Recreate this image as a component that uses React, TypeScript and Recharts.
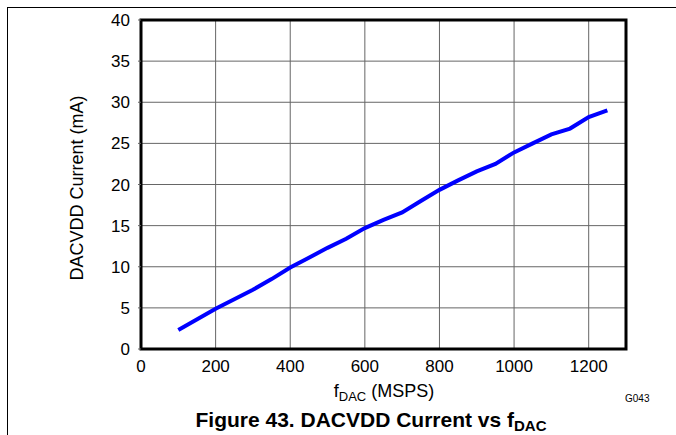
import React from "react";
import {
  LineChart,
  Line,
  XAxis,
  YAxis,
  CartesianGrid,
  ReferenceArea,
} from "recharts";

// f_DAC (MSPS) and DACVDD current (mA)
const fDac = [100, 200, 300, 350, 400, 450, 500, 550, 600, 650, 700, 750, 800, 850, 900, 950, 1000, 1050, 1100, 1150, 1200, 1250];
const current = [2.3, 4.9, 7.2, 8.5, 9.9, 11.1, 12.3, 13.4, 14.7, 15.7, 16.6, 18.0, 19.35, 20.5, 21.6, 22.5, 23.9, 25.0, 26.1, 26.8, 28.2, 29.0];

const xTicks = [0, 200, 400, 600, 800, 1000, 1200];
const yTicks = [0, 5, 10, 15, 20, 25, 30, 35, 40];

const data = fDac.map((f, i) => ({ f, mA: current[i] }));

const font = "Arial, 'Liberation Sans', Helvetica, sans-serif";

export default function App() {
  return (
    <div style={{ position: "absolute", left: 0, top: 0, width: 676, height: 435, fontFamily: font, background: "#fff" }}>
      <div
        style={{
          position: "absolute",
          left: 7,
          top: 7,
          right: 0,
          bottom: 0,
          borderTop: "1.5px solid #000",
          borderLeft: "1.5px solid #000",
        }}
      />
      <LineChart
        width={676}
        height={435}
        data={data}
        margin={{ top: 20, right: 50, bottom: 0, left: 0 }}
        style={{ position: "absolute", left: 0, top: 0 }}
      >
        <CartesianGrid stroke="#666" strokeWidth={1} />
        <XAxis
          dataKey="f"
          type="number"
          domain={[0, 1300]}
          ticks={xTicks}
          height={86}
          axisLine={false}
          tickLine={false}
          tickSize={6}
          tickMargin={5}
          tick={{ fontSize: 17, fill: "#000", fontFamily: font }}
          interval={0}
        />
        <YAxis
          type="number"
          domain={[0, 40]}
          ticks={yTicks}
          width={141}
          axisLine={false}
          tickSize={3}
          tickMargin={8}
          tickLine={{ stroke: "#666" }}
          tick={{ fontSize: 17, fill: "#000", fontFamily: font }}
          interval={0}
        />
        <ReferenceArea x1={0} x2={1300} y1={0} y2={40} fill="none" stroke="#000" strokeWidth={3} />
        <Line
          type="linear"
          dataKey="mA"
          stroke="#0000ff"
          strokeWidth={4}
          dot={false}
          isAnimationActive={false}
        />
        <text
          x={77}
          y={188}
          transform="rotate(-90 77 188)"
          textAnchor="middle"
          dominantBaseline="central"
          fontSize={18}
          fontFamily={font}
          fill="#000"
        >
          DACVDD Current (mA)
        </text>
        <text x={384} y={397} textAnchor="middle" fontSize={18} fontFamily={font} fill="#000">
          f<tspan fontSize={13} dy={4}>DAC</tspan>
          <tspan dy={-4}> (MSPS)</tspan>
        </text>
        <text x={625} y={402} fontSize={10} fontFamily={font} fill="#000">
          G043
        </text>
        <text x={371} y={427} textAnchor="middle" fontSize={21} fontWeight="bold" fontFamily={font} fill="#000">
          Figure 43. DACVDD Current vs f<tspan fontSize={15} dy={4}>DAC</tspan>
        </text>
      </LineChart>
    </div>
  );
}
